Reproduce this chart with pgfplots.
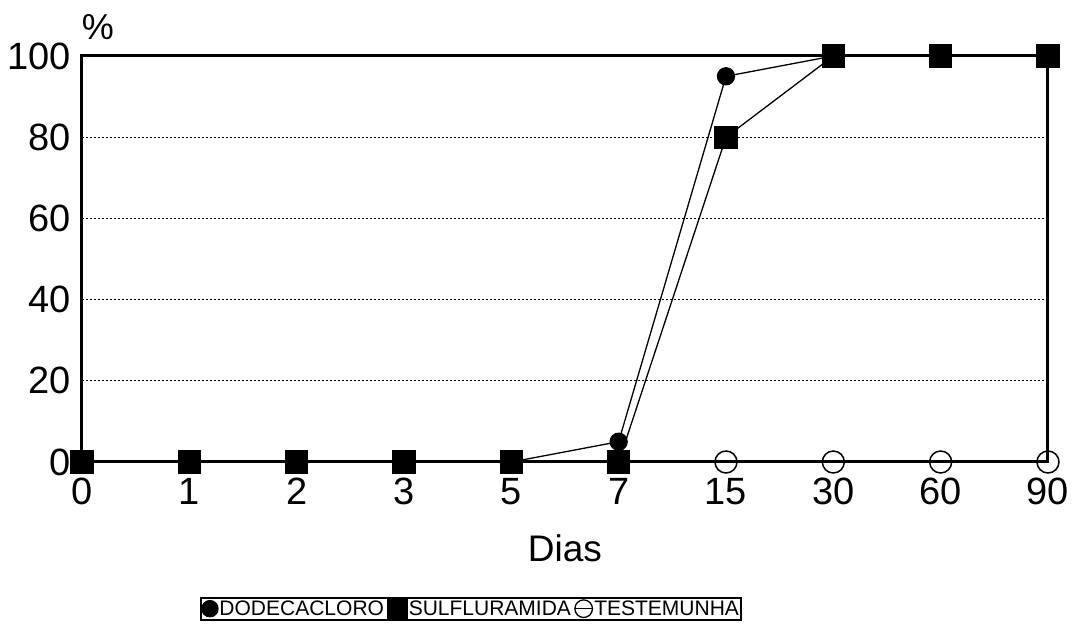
\documentclass[border=0pt]{standalone}
\usepackage{fontspec}
\setmainfont{Liberation Sans}
\usepackage{pgfplots}
\pgfplotsset{compat=1.18}
\pgfplotsset{
  markonly legend/.style={legend image code/.code={\draw[##1, mark options={scale=#1}] plot coordinates {(0pt,0pt)};}},
  barred legend/.style={legend image code/.code={\draw[##1] (-8.5pt,0pt) -- (8.5pt,0pt); \draw[##1, mark options={scale=#1}] plot coordinates {(0pt,0pt)};}},
}

\begin{document}
\begin{tikzpicture}
\begin{axis}[
  name=ax, at={(0,0)}, anchor=south west,
  width=966pt, height=406pt, scale only axis,
  xmin=0, xmax=9, ymin=0, ymax=100,
  xtick={0,...,9},
  xticklabels={0,1,2,3,5,7,15,30,60,90},
  ytick={0,20,...,100},
  major tick length=0pt,
  ymajorgrids,
  major grid style={black, line width=1.3pt, dash pattern=on 1.6pt off 2.4pt},
  axis line style={line width=3pt},
  tick label style={font=\fontsize{38}{42}\selectfont, inner sep=0pt},
  xticklabel style={yshift=-16pt},
  yticklabel style={xshift=-11pt},
  /pgf/number format/assume math mode=true,
  xlabel={Dias},
  xlabel style={font=\fontsize{37}{42}\selectfont, at={(axis description cs:0.5,-0.212)}, anchor=center},
  clip=false,
  legend columns=3,
  legend style={
    at={(0.122,-0.332)}, anchor=north west,
    draw=black, line width=2pt,
    font=\fontsize{21}{24}\selectfont,
    inner sep=1pt,
    nodes={inner sep=1.5pt},
    /tikz/every even column/.append style={column sep=2pt}
  },
]
\addplot [black, line width=1.3pt, mark=*, mark size=8.5pt, markonly legend=0.95]
table {
x y
0 0
1 0
2 0
3 0
4 0
5 5
6 95
7 100
8 100
9 100
};
\addlegendentry{DODECACLORO}
\addplot [black, line width=1.3pt, mark=square*, mark size=11pt, markonly legend=0.9]
table {
x y
0 0
1 0
2 0
3 0
4 0
5 0
6 80
7 100
8 100
9 100
};
\addlegendentry{SULFLURAMIDA}
\addplot [black, line width=1.3pt, mark=o, mark size=11pt, mark options={line width=1.5pt}, barred legend=0.8]
table {
x y
0 0
1 0
2 0
3 0
4 0
5 0
6 0
7 0
8 0
9 0
};
\addlegendentry{TESTEMUNHA}
\end{axis}
\node[font=\fontsize{36}{40}\selectfont] at ([xshift=16pt,yshift=29pt]ax.north west) {\%};
\pgfresetboundingbox
\path (ax.south west) ++(-82pt,-164pt) rectangle ++(1074pt,626pt);
\end{tikzpicture}
\end{document}
